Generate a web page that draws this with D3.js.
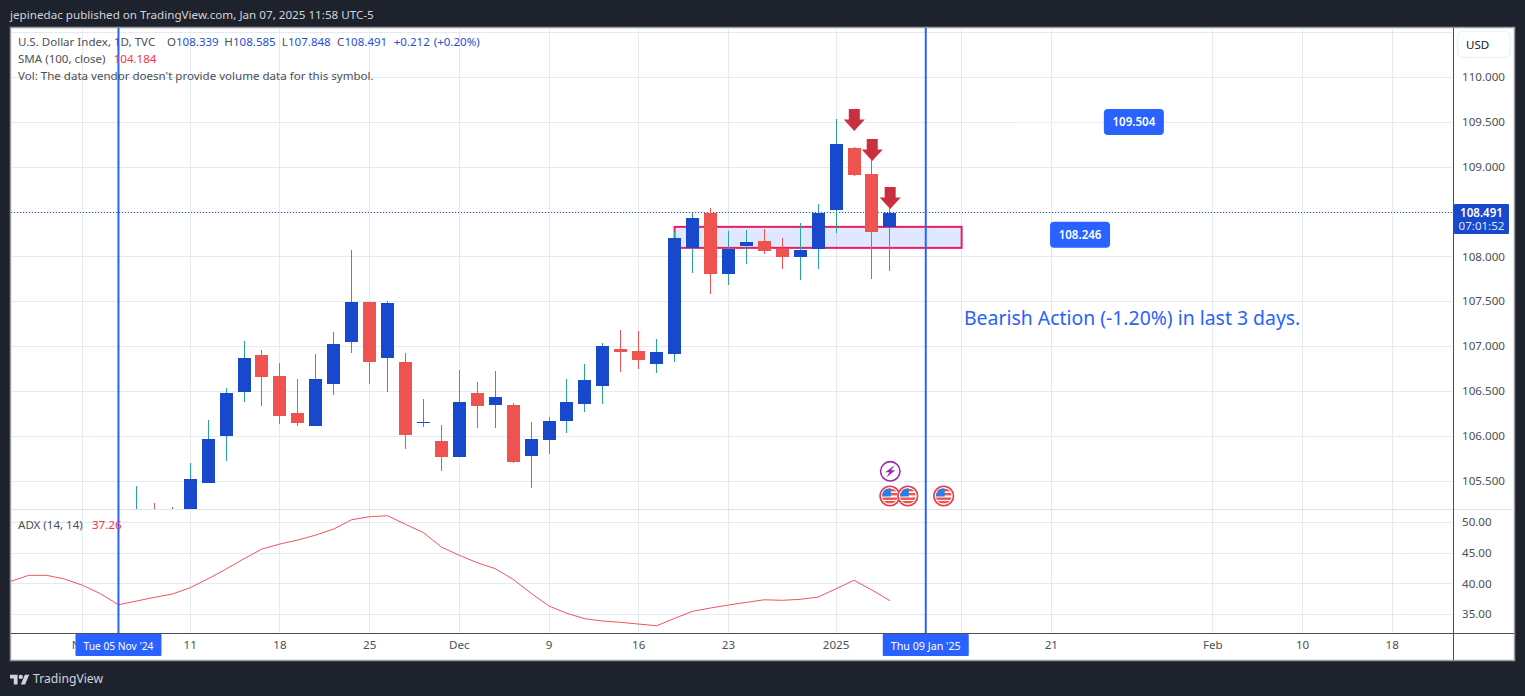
<!DOCTYPE html>
<html><head><meta charset="utf-8">
<script src="https://cdn.jsdelivr.net/npm/d3@7"></script>
<style>
html,body{margin:0;padding:0;background:#1e222d;overflow:hidden}
svg{display:block}
text{font-family:"Noto Sans",sans-serif;font-size:11.55px}
</style></head><body>
<svg id="c" width="1525" height="696"></svg>
<script>
// ---- data ----
const opens =[103.9,105.1,104.5,105.0,105.482,106.005,106.496,106.908,106.674,106.262,106.117,106.585,107.053,107.499,106.875,106.830,106.150,105.950,105.771,106.485,106.351,106.351,105.782,105.961,106.173,106.362,106.563,106.975,106.953,106.808,106.919,108.101,108.491,107.811,108.123,108.179,108.090,108.001,108.090,108.524,109.215,108.926,108.339];
const highs =[105.448,105.26,105.214,105.70,106.184,106.54,107.064,106.964,106.819,106.641,106.919,107.165,108.078,107.499,107.510,106.931,106.418,106.128,106.741,106.607,106.730,106.373,106.161,106.217,106.641,106.808,107.042,107.187,107.176,107.087,108.279,108.491,108.547,108.290,108.301,108.313,108.212,108.379,108.591,109.539,109.227,109.137,108.585];
const lows  =[103.6,104.3,104.4,104.9,105.482,105.727,106.384,106.340,106.139,106.117,106.117,106.462,106.931,106.585,106.496,105.861,106.106,105.615,105.771,106.095,106.095,105.705,105.426,105.805,106.039,106.273,106.362,106.719,106.752,106.708,106.830,107.822,107.588,107.688,107.923,108.034,107.867,107.744,107.867,108.268,108.903,107.755,107.848];
const closes=[105.08,104.5,105.0,105.526,105.972,106.485,106.875,106.663,106.228,106.150,106.641,107.031,107.499,106.830,107.488,106.017,106.161,105.771,106.384,106.340,106.440,105.716,105.972,106.173,106.384,106.629,107.008,106.942,106.853,106.942,108.212,108.435,107.811,108.090,108.168,108.067,108.001,108.078,108.491,109.260,108.914,108.279,108.491];
const adxStart=-7;
const adxValues=[40.41,41.38,41.38,40.78,39.76,38.39,36.60,37.20,37.80,38.34,39.37,40.83,42.41,44.08,45.66,46.47,47.12,47.93,48.91,50.42,50.91,51.07,49.67,48.31,45.98,44.63,43.43,42.46,40.73,38.46,36.39,35.20,34.33,33.95,33.74,33.46,33.19,34.39,35.53,36.07,36.55,36.99,37.41,37.32,37.48,37.85,39.20,40.57,39.00,37.26];
const priceTicks=[105.5,106,106.5,107,107.5,108,108.5,109,109.5,110];
const priceGridOnly=[110.5];
const adxTicks=[35,40,45,50];
const timeBars=[-3,3,8,13,18,23,28,33,39,46,51,60,65,70];
const timeLabels=["Nov","11","18","25","Dec","9","16","23","2025","","21","Feb","10","18"];
const lastPrice=108.491;
const arrowBars=[40,41,42], arrowPrices=[109.405,109.07,108.535];
const flagBars=[42,43,45], boltBars=[42];
const zoneBars=[30,46], zonePrices=[108.335,108.101];
const vLineBars=[-1,44], vLineLabels=["Tue 05 Nov '24","Thu 09 Jan '25"];
const noteBars=[55.6,52.6], notePrices=[109.504,108.246];

// ---- scales ----
const svg=d3.select("#c");
const paneL=11, paneR=1453, paneT=28, paneB=509, adxB=633, frameB=660, frameR=1514;
const x=d3.scaleLinear().domain([0,70]).range([136.4,1392.2]);
const y=d3.scaleLinear().domain([110,105.5]).range([77.5,481.2]);
const ya=d3.scaleLinear().domain([50,35]).range([522.3,614.6]);
const BLUE="#2962ff", UP="#1848cc", DOWN="#ef5350", TEAL="#26a69a", GRID="#e3eaf1", TXT="#4c4f57";

// frame
svg.append("rect").attr("x",10.5).attr("y",27.5).attr("width",frameR-10).attr("height",frameB-27)
  .attr("fill","#fff").attr("stroke","#9a9da5").attr("stroke-width",1.5);
const defs=svg.append("defs");
defs.append("clipPath").attr("id","p").append("rect").attr("x",paneL).attr("y",paneT).attr("width",paneR-paneL).attr("height",paneB-paneT);
defs.append("clipPath").attr("id","a").append("rect").attr("x",paneL).attr("y",paneB).attr("width",paneR-paneL).attr("height",adxB-paneB);

// grids via axes
function styleGrid(g){g.select(".domain").remove();g.selectAll("text").remove();g.selectAll("line").attr("stroke",GRID).attr("shape-rendering","crispEdges");}
svg.append("g").attr("transform",`translate(0,${paneT})`)
  .call(d3.axisBottom(x).offset(0).tickValues(timeBars).tickSize(adxB-paneT).tickFormat("")).call(styleGrid);
svg.append("g").attr("transform",`translate(${paneL},0)`)
  .call(d3.axisRight(y).offset(0).tickValues(priceTicks.concat(priceGridOnly)).tickSize(paneR-paneL).tickFormat("")).call(styleGrid);
svg.append("g").attr("transform",`translate(${paneL},0)`)
  .call(d3.axisRight(ya).offset(0).tickValues(adxTicks).tickSize(paneR-paneL).tickFormat("")).call(styleGrid);

// pane separators
svg.append("line").attr("x1",paneL).attr("x2",frameR).attr("y1",509.5).attr("y2",509.5).attr("stroke","#dfe2e8");
svg.append("line").attr("x1",paneL).attr("x2",frameR).attr("y1",633.5).attr("y2",633.5).attr("stroke","#4a4d55");
svg.append("line").attr("x1",1453.5).attr("x2",1453.5).attr("y1",paneT).attr("y2",frameB).attr("stroke","#4a4d55");

// zone
const price=svg.append("g").attr("clip-path","url(#p)");
price.append("rect").attr("x",x(zoneBars[0])).attr("y",y(zonePrices[0]))
  .attr("width",x(zoneBars[1])-x(zoneBars[0])).attr("height",y(zonePrices[1])-y(zonePrices[0]))
  .attr("fill","#2962ff").attr("fill-opacity",.15).attr("stroke","#e91e63").attr("stroke-width",2);

// last price line
price.append("line").attr("x1",paneL).attr("x2",paneR).attr("y1",Math.floor(y(lastPrice))+.5).attr("y2",Math.floor(y(lastPrice))+.5)
  .attr("stroke","#1d50e0").attr("stroke-dasharray","1 2").attr("shape-rendering","crispEdges");

// candles
const bars=d3.range(opens.length);
const isUp=i=>closes[i]>=opens[i];
price.selectAll(".w").data(bars).join("line").attr("class","w")
  .attr("x1",i=>Math.floor(x(i))+.5).attr("x2",i=>Math.floor(x(i))+.5)
  .attr("y1",i=>y(highs[i])).attr("y2",i=>y(lows[i]))
  .attr("stroke",i=>isUp(i)?TEAL:DOWN).attr("shape-rendering","crispEdges");
price.selectAll(".b").data(bars).join("rect").attr("class","b")
  .attr("x",i=>Math.floor(x(i))-6).attr("width",13)
  .attr("y",i=>y(Math.max(opens[i],closes[i])))
  .attr("height",i=>Math.max(1,Math.abs(y(opens[i])-y(closes[i]))))
  .attr("fill",i=>isUp(i)?UP:DOWN).attr("shape-rendering","crispEdges");

// arrows
const arrowPath="M0 0L-10.5 -11.5L-5.5 -11.5L-5.5 -22L5.5 -22L5.5 -11.5L10.5 -11.5Z";
price.selectAll(".ar").data(arrowBars).join("path").attr("class","ar")
  .attr("transform",(d,i)=>`translate(${x(d)+.3},${y(arrowPrices[i])})`).attr("d",arrowPath).attr("fill","#c92f3f");

// ADX
const adx=svg.append("g").attr("clip-path","url(#a)");
adx.append("path").datum(adxValues).attr("fill","none").attr("stroke","#f7525f").attr("stroke-width",1)
  .attr("d",d3.line().x((d,i)=>x(adxStart+i)).y(d=>ya(d)));

// faint line to first note
svg.append("line").attr("x1",x(49)).attr("x2",x(noteBars[0])).attr("y1",y(notePrices[0])).attr("y2",y(notePrices[0])).attr("stroke","#fff").attr("stroke-opacity",.7);

// vertical lines
svg.selectAll(".v").data(vLineBars).join("line").attr("class","v")
  .attr("x1",d=>x(d)).attr("x2",d=>x(d)).attr("y1",paneT).attr("y2",adxB)
  .attr("stroke",BLUE).attr("stroke-width",2);

// events
const ev=svg.append("g");
const flag=defs.append("clipPath").attr("id","fc");
flag.append("circle").attr("r",7.8);
flagBars.forEach(b=>{
  const g=ev.append("g").attr("transform",`translate(${x(b)},496)`);
  g.append("circle").attr("r",9.8).attr("fill","#fff").attr("stroke","#f23645").attr("stroke-width",1.6);
  const f=g.append("g").attr("clip-path","url(#fc)");
  [-7,-3,1.5,5].forEach(s=>f.append("rect").attr("x",-8).attr("y",s).attr("width",16).attr("height",2.4).attr("fill","#ef5350"));
  f.append("rect").attr("x",-8).attr("y",-8).attr("width",9).attr("height",8.5).attr("fill","#2a7fe0");
});
boltBars.forEach(b=>{
  const g=ev.append("g").attr("transform",`translate(${x(b)+.4},471.3)`);
  g.append("circle").attr("r",9.7).attr("fill","#fff").attr("stroke","#9c27b0").attr("stroke-width",1.6);
  g.append("path").attr("d","M4.6 -6.2L-5 1L-0.8 1L-4 6.2L5 -1L0.8 -1Z").attr("fill","#9c27b0");
});

// note labels
svg.selectAll(".n").data(noteBars).join("rect").attr("class","n")
  .attr("x",d=>x(d)-30).attr("width",60).attr("height",26).attr("rx",4)
  .attr("y",(d,i)=>y(notePrices[i])-13).attr("fill",BLUE);
svg.selectAll(".nt").data(noteBars).join("text").attr("class","nt")
  .attr("x",d=>x(d)).attr("y",(d,i)=>y(notePrices[i])).attr("dy","0.35em").attr("text-anchor","middle")
  .attr("fill","#fff").style("font-weight",600).text((d,i)=>notePrices[i].toFixed(3));
svg.append("text").attr("x",964).attr("y",325).attr("fill",BLUE).style("font-size","19.4px").text("Bearish Action (-1.20%) in last 3 days.");

// axes
function styleAxis(g){g.select(".domain").remove();g.selectAll("line").remove();g.selectAll("text").attr("fill",TXT).style("font-size","11.6px");}
svg.append("g").attr("transform","translate(1462,0)")
  .call(d3.axisRight(y).offset(0).tickValues(priceTicks).tickSize(0).tickPadding(0).tickFormat(d3.format(".3f"))).call(styleAxis);
svg.append("g").attr("transform","translate(1462,0)")
  .call(d3.axisRight(ya).offset(0).tickValues(adxTicks).tickSize(0).tickPadding(0).tickFormat(d3.format(".2f"))).call(styleAxis);
svg.append("g").attr("transform","translate(0,633)")
  .call(d3.axisBottom(x).offset(0).tickValues(timeBars).tickSize(0).tickPadding(8).tickFormat((d,i)=>timeLabels[i])).call(styleAxis);

// crosshair-style date labels
vLineBars.forEach((b,i)=>{
  svg.append("rect").attr("x",x(b)-43).attr("y",634).attr("width",86).attr("height",22).attr("fill",BLUE).attr("rx",1);
  svg.append("text").attr("x",x(b)).attr("y",646).attr("dy","0.35em").attr("text-anchor","middle").attr("fill","#fff")
    .attr("textLength",70).attr("lengthAdjust","spacingAndGlyphs").text(vLineLabels[i]);
});

// USD button + last price tag
svg.append("rect").attr("x",1457.5).attr("y",31.5).attr("width",53).attr("height",26).attr("rx",5).attr("fill","#fff").attr("stroke","#f0f3fa").attr("stroke-width",1.5);
svg.append("text").attr("x",1466).attr("y",44.5).attr("dy","0.35em").attr("fill","#131722").text("USD");
svg.append("rect").attr("x",1454).attr("y",204).attr("width",55).attr("height",30).attr("rx",1).attr("fill",UP);
const tag=svg.append("text").attr("y",217).attr("text-anchor","middle").attr("fill","#fff");
tag.append("tspan").attr("x",1481.5).style("font-weight",600).text(lastPrice.toFixed(3));
tag.append("tspan").attr("x",1481.5).attr("dy",13).attr("fill","#dfe6fb").text("07:01:52");

// legend
function t(xp,yp,s,c){return svg.append("text").attr("x",xp).attr("y",yp).attr("dy","0.35em").attr("fill",c).text(s);}
t(18,41.5,"U.S. Dollar Index, 1D, TVC",TXT);
[[167,"O"],[224.3,"H"],[281.7,"L"],[337,"C"]].forEach(d=>t(d[0],41.5,d[1],TXT));
[[176,"108.339"],[233,"108.585"],[288,"107.848"],[344.5,"108.491"],[393.7,"+0.212"],[433.7,"(+0.20%)"]].forEach(d=>t(d[0],41.5,d[1],"#1f4fcf"));
t(18,58.5,"SMA (100, close)",TXT); t(113.7,58.5,"104.184","#f7334a");
t(18,75.5,"Vol: The data vendor doesn't provide volume data for this symbol.",TXT);
t(18,524.5,"ADX (14, 14)",TXT); t(92,524.5,"37.26","#f7334a");

// header + footer
t(10,14.5,"jepinedac published on TradingView.com, Jan 07, 2025 11:58 UTC-5","#d1d4dc").style("font-size","11.65px");
const logo=svg.append("g").attr("transform","translate(10,672.6) scale(0.54)").attr("fill","#d1d4dc");
logo.append("path").attr("d","M14 22H7V11H0V4h14v18zM28 22h-8l7.5-18h8L28 22z");
logo.append("circle").attr("cx",20).attr("cy",8).attr("r",4);
svg.append("text").attr("x",33).attr("y",678).attr("dy","0.35em").attr("fill","#d1d4dc").style("font-size","13px")
  .attr("textLength",70).attr("lengthAdjust","spacingAndGlyphs").text("TradingView");
</script></body></html>
